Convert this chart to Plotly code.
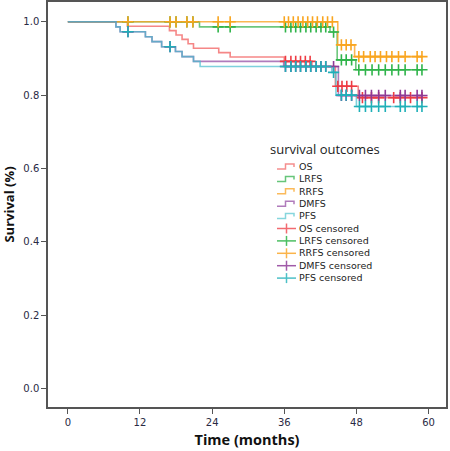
import numpy as np
import plotly.graph_objects as go

# ---------------- data ----------------
outcomes = ["OS", "LRFS", "RRFS", "DMFS", "PFS"]

# step functions: event times (months) and survival after each event
os_times = [0, 9.9, 16.9, 18.0, 19.0, 20.0, 20.9, 25.1, 27.0, 36.0, 40.6, 44.5, 48.3]
os_surv = [1.0, 0.988, 0.976, 0.964, 0.952, 0.940, 0.928, 0.916, 0.904, 0.892, 0.878, 0.824, 0.793]
os_cens = [36.2, 37.1, 37.9, 38.7, 39.5, 40.3, 44.9, 45.6, 46.4, 47.2, 49.0, 50.5, 51.7, 54.2, 55.3, 57.0, 58.9]

lrfs_times = [0, 21.9, 43.6, 44.8, 47.9]
lrfs_surv = [1.0, 0.986, 0.972, 0.896, 0.869]
lrfs_cens = [10.0, 17.0, 18.0, 19.8, 20.8, 25.0, 27.0, 36.2, 37.1, 37.9, 38.7, 39.6, 40.4, 41.3, 42.1, 42.9,
             44.2, 45.5, 46.3, 47.2, 48.4, 49.5, 50.6, 51.7, 52.8, 53.9, 55.0, 56.1, 58.1, 58.9]

rrfs_times = [0, 44.9, 47.7]
rrfs_surv = [1.0, 0.937, 0.905]
rrfs_cens = [10.0, 17.0, 18.0, 19.8, 20.8, 25.0, 27.0, 36.0, 36.7, 37.5, 38.3, 39.1, 39.9, 40.7, 41.5, 42.4,
             43.2, 44.0, 45.5, 46.3, 47.1, 48.4, 49.2, 50.3, 51.1, 52.0, 53.0, 53.9, 55.0, 56.1, 58.1, 58.9]

dmfs_times = [0, 8.0, 8.7, 12.9, 14.0, 15.6, 17.9, 19.0, 20.9, 35.9, 45.0]
dmfs_surv = [1.0, 0.986, 0.973, 0.959, 0.946, 0.932, 0.919, 0.905, 0.892, 0.878, 0.799]
dmfs_cens = [10.0, 17.0, 36.2, 37.1, 37.9, 38.7, 39.6, 40.4, 41.3, 42.1, 42.9, 44.2, 45.5, 46.3, 47.2,
             48.5, 49.5, 50.5, 51.7, 52.8, 55.3, 56.1, 58.1, 58.9]

pfs_times = [0, 8.0, 8.7, 12.9, 14.0, 15.6, 17.9, 19.0, 20.9, 22.0, 43.9, 44.6, 48.0]
pfs_surv = [1.0, 0.986, 0.973, 0.959, 0.946, 0.932, 0.919, 0.905, 0.892, 0.878, 0.862, 0.800, 0.769]
pfs_cens = [10.0, 17.0, 36.2, 37.1, 37.9, 38.7, 39.6, 40.4, 41.3, 42.1, 42.9, 44.2, 45.5, 46.3, 47.2,
            48.5, 49.5, 50.5, 51.7, 52.8, 55.3, 56.1, 58.1, 58.9]

x_ticks = [0, 12, 24, 36, 48, 60]
y_ticks = [0.0, 0.2, 0.4, 0.6, 0.8, 1.0]

# ---------------- styling ----------------
line_colors = ["rgba(242,95,95,0.75)", "rgba(60,180,80,0.75)", "rgba(250,165,40,0.8)",
               "rgba(150,80,165,0.75)", "rgba(70,190,205,0.7)"]
mark_colors = ["#ee3b43", "#2fb44a", "#f9a51f", "#8e3a96", "#1fb0b8"]
leg_line = ["#f58e8e", "#66c57a", "#fbba5a", "#b07bbb", "#86d6dd"]
leg_mark = ["#f26a70", "#4cbf62", "#fbb44a", "#a05aa8", "#4cc0c7"]

series = [
    (os_times, os_surv, os_cens),
    (lrfs_times, lrfs_surv, lrfs_cens),
    (rrfs_times, rrfs_surv, rrfs_cens),
    (dmfs_times, dmfs_surv, dmfs_cens),
    (pfs_times, pfs_surv, pfs_cens),
]

W, H = 450, 451
ML, MR, MT, MB = 48, 4, 2, 44

fig = go.Figure()


def surv_at(times, surv, t):
    idx = np.searchsorted(np.asarray(times), t, side="right") - 1
    return float(np.asarray(surv)[idx])


for i, (tt, ss, cc) in enumerate(series):
    end_t = max(cc[-1], tt[-1])
    x = list(tt) + [end_t]
    y = list(ss) + [ss[-1]]
    fig.add_trace(go.Scatter(x=x, y=y, mode="lines", line=dict(shape="hv", color=line_colors[i], width=1.6),
                             name=outcomes[i], showlegend=False, hoverinfo="skip"))

for i, (tt, ss, cc) in enumerate(series):
    cy = [surv_at(tt, ss, c) for c in cc]
    fig.add_trace(go.Scatter(x=cc, y=cy, mode="markers",
                             marker=dict(symbol="cross-thin", size=8, line=dict(color=mark_colors[i], width=1.6)),
                             name=outcomes[i] + " censored", showlegend=False, hoverinfo="skip"))

# ---------------- manual legend (layout decoration) ----------------
pw, ph = W - ML - MR, H - MT - MB


def px_x(px):
    return (px - ML) / pw


def px_y(py):
    return (H - MB - py) / ph


LEG_X0, LEG_X1, LEG_TX = 277, 296, 298
LEG_Y0, LEG_DY = 166.5, 12.4
LEG_FONT = 9.5  # line spacing of a multi-line annotation = 1.3 * font size
FONT = "Open Sans"

labels = outcomes + [o + " censored" for o in outcomes]
n = len(labels)
annotations = [
    dict(text="survival outcomes", x=px_x(269), y=px_y(148.5), xref="paper", yref="paper",
         xanchor="left", yanchor="middle", showarrow=False, borderpad=0,
         font=dict(family=FONT, size=13, color="#222222")),
    dict(text="<br>".join(labels), x=px_x(LEG_TX), y=px_y(LEG_Y0 + (n - 1) * LEG_DY / 2),
         xref="paper", yref="paper", xanchor="left", yanchor="middle", align="left",
         showarrow=False, borderpad=0,
         font=dict(family="DejaVu Sans", size=LEG_FONT, color="#222222")),
]
shapes = []
for k, lab in enumerate(labels):
    yc = LEG_Y0 + k * LEG_DY
    if k < 5:
        c = leg_line[k]
        xm = (LEG_X0 + LEG_X1) / 2 - 1
        path = "M {},{} L {},{} L {},{} L {},{} L {},{}".format(
            px_x(LEG_X0), px_y(yc + 2.5), px_x(xm), px_y(yc + 2.5), px_x(xm), px_y(yc - 2.5),
            px_x(LEG_X1 - 2), px_y(yc - 2.5), px_x(LEG_X1 - 2), px_y(yc + 0.5))
        shapes.append(dict(type="path", path=path, xref="paper", yref="paper", line=dict(color=c, width=1.5)))
    else:
        c = leg_mark[k - 5]
        xm = (LEG_X0 + LEG_X1) / 2
        shapes.append(dict(type="line", x0=px_x(LEG_X0), x1=px_x(LEG_X1), y0=px_y(yc), y1=px_y(yc),
                           xref="paper", yref="paper", line=dict(color=c, width=1.5)))
        shapes.append(dict(type="line", x0=px_x(xm), x1=px_x(xm), y0=px_y(yc - 5), y1=px_y(yc + 5),
                           xref="paper", yref="paper", line=dict(color=c, width=1.5)))

fig.update_layout(
    width=W, height=H,
    margin=dict(l=ML, r=MR, t=MT, b=MB, autoexpand=False),
    paper_bgcolor="white", plot_bgcolor="white",
    showlegend=False,
    annotations=annotations, shapes=shapes,
    xaxis=dict(range=[-3.3, 62.9], tickvals=x_ticks, ticktext=[str(v) for v in x_ticks], automargin=False,
               showgrid=False, zeroline=False, showline=True, mirror=True, linecolor="#555555", linewidth=1.5,
               ticks="outside", ticklen=5, tickwidth=1.2, tickcolor="#555555",
               tickfont=dict(family="DejaVu Sans", size=10, color="#2a2a44"),
               title=dict(text="<b>Time (months)</b>", font=dict(family=FONT, size=14.5, color="#111111"),
                          standoff=8)),
    yaxis=dict(range=[-0.051, 1.054], tickvals=y_ticks, ticktext=["%.1f" % v for v in y_ticks], automargin=False,
               showgrid=False, zeroline=False, showline=True, mirror=True, linecolor="#555555", linewidth=1.5,
               ticks="outside", ticklen=5, tickwidth=1.2, tickcolor="#555555",
               tickfont=dict(family="DejaVu Sans", size=10, color="#2a2a44"),
               title=dict(text="<b>Survival (%)</b>", font=dict(family=FONT, size=13, color="#111111"),
                          standoff=8)),
)

fig.write_html("out.html", config={"displayModeBar": False},
               post_script="document.body.style.margin='0px';document.body.style.padding='0px';")
